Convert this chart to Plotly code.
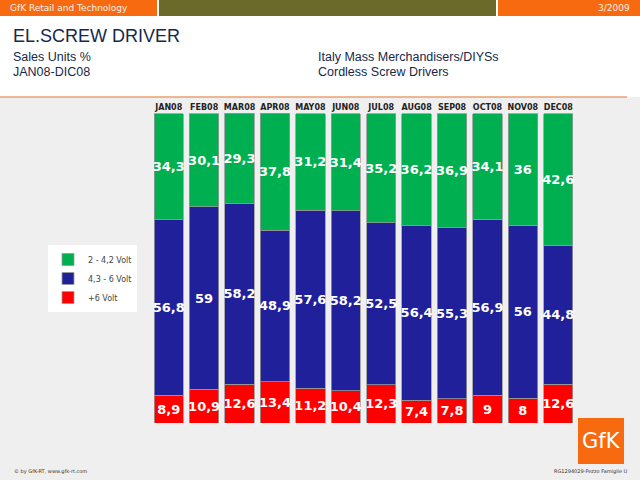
import plotly.graph_objects as go

months = ['JAN08', 'FEB08', 'MAR08', 'APR08', 'MAY08', 'JUN08',
          'JUL08', 'AUG08', 'SEP08', 'OCT08', 'NOV08', 'DEC08']
volt_2_42 = [34.3, 30.1, 29.3, 37.8, 31.2, 31.4, 35.2, 36.2, 36.9, 34.1, 36, 42.6]
volt_43_6 = [56.8, 59, 58.2, 48.9, 57.6, 58.2, 52.5, 56.4, 55.3, 56.9, 56, 44.8]
volt_6plus = [8.9, 10.9, 12.6, 13.4, 11.2, 10.4, 12.3, 7.4, 7.8, 9, 8, 12.6]


def lab(vals):
    # italian decimals
    return [('%g' % v).replace('.', ',') for v in vals]


W, H = 640, 480
L, R, T, B = 151, 64, 113, 57


def px(x):
    return (x - L) / (W - L - R)


def py(y):
    return (H - B - y) / (H - T - B)


fig = go.Figure()
series = [('+6 Volt', volt_6plus, '#ff0000'),
          ('4,3 - 6 Volt', volt_43_6, '#20209a'),
          ('2 - 4,2 Volt', volt_2_42, '#00b050')]
for name, vals, col in series:
    fig.add_trace(go.Bar(
        x=months, y=vals, name=name, text=lab(vals),
        textposition='inside', insidetextanchor='middle', textangle=0,
        textfont=dict(color='white', size=13, family='DejaVu Sans', weight='bold'),
        constraintext='none', cliponaxis=False,
        marker=dict(color=col, line=dict(color='#999999', width=0.8)),
    ))

shapes = [
    # white header area
    dict(type='rect', xref='paper', yref='paper', x0=px(0), x1=px(W), y0=py(97), y1=py(0),
         fillcolor='white', line_width=0, layer='below'),
    # top bars
    dict(type='rect', xref='paper', yref='paper', x0=px(0), x1=px(157), y0=py(16), y1=py(0),
         fillcolor='#f86a10', line_width=0),
    dict(type='rect', xref='paper', yref='paper', x0=px(159), x1=px(496), y0=py(16), y1=py(0),
         fillcolor='#6b6a2b', line_width=0),
    dict(type='rect', xref='paper', yref='paper', x0=px(498), x1=px(W), y0=py(16), y1=py(0),
         fillcolor='#f86a10', line_width=0),
    # orange rule
    dict(type='line', xref='paper', yref='paper', x0=px(0), x1=px(627), y0=py(97), y1=py(97),
         line=dict(color='#e8a070', width=1.5)),
    # GfK logo box
    dict(type='rect', xref='paper', yref='paper', x0=px(578), x1=px(624), y0=py(464), y1=py(418),
         fillcolor='#f86a10', line_width=0),
]

hdr = 'Liberation Sans'
ann = [
    dict(text='GfK Retail and Technology', x=px(8), y=py(8), xanchor='left',
         font=dict(size=9, color='#f4f0e8')),
    dict(text='3/2009', x=px(632), y=py(8), xanchor='right',
         font=dict(size=9, color='#f4f0e8')),
    dict(text='EL.SCREW DRIVER', x=px(11), y=py(36), xanchor='left',
         font=dict(size=18, color='#15294a', family=hdr)),
    dict(text='Sales Units %', x=px(11), y=py(57), xanchor='left',
         font=dict(size=12.5, color='#15294a', family=hdr)),
    dict(text='JAN08-DIC08', x=px(11), y=py(72), xanchor='left',
         font=dict(size=12.5, color='#15294a', family=hdr)),
    dict(text='Italy Mass Merchandisers/DIYSs', x=px(316), y=py(57), xanchor='left',
         font=dict(size=12.5, color='#15294a', family=hdr)),
    dict(text='Cordless Screw Drivers', x=px(316), y=py(72), xanchor='left',
         font=dict(size=12.5, color='#15294a', family=hdr)),
    dict(text='GfK', x=px(601), y=py(441), xanchor='center',
         font=dict(size=21, color='white')),
    dict(text='© by GfK-RT, www.gfk-rt.com', x=px(12), y=py(472), xanchor='left',
         font=dict(size=5, color='#333333')),
    dict(text='RG1294029-Pezzo Famiglie U', x=px(630), y=py(472), xanchor='right',
         font=dict(size=5, color='#333333')),
]
for a in ann:
    a.update(xref='paper', yref='paper', showarrow=False, yanchor='middle')
    a['font'].setdefault('family', 'DejaVu Sans')

fig.update_layout(
    width=W, height=H, barmode='stack', bargap=0.17,
    margin=dict(l=L, r=R, t=T, b=B),
    paper_bgcolor='#efefef', plot_bgcolor='#efefef',
    font=dict(family='DejaVu Sans'),
    uniformtext=dict(minsize=13, mode='show'),
    legend=dict(traceorder='reversed', x=px(48), y=py(245), xanchor='left', yanchor='top',
                bgcolor='white', font=dict(size=8, color='#444444'),
                itemwidth=30, tracegroupgap=0),
    xaxis=dict(side='top', showgrid=False, showline=False, ticks='', ticklabelstandoff=0,
               tickfont=dict(size=8, color='#222222', family='DejaVu Sans', weight='bold')),
    yaxis=dict(range=[0, 100.2], visible=False),
    shapes=shapes, annotations=ann,
)

# page body margin would offset the figure by 8px
fig.write_html('out.html', config={'displayModeBar': False},
               post_script="document.body.style.margin='0';")
